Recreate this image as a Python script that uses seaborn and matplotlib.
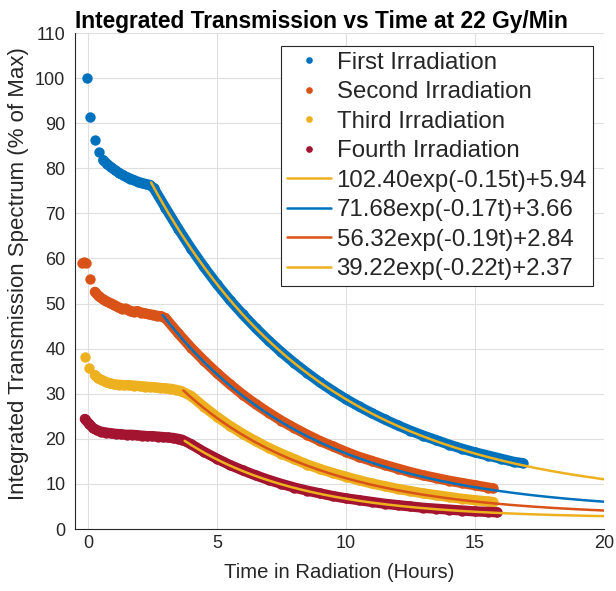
import matplotlib
matplotlib.use("Agg")
import matplotlib.pyplot as plt
from matplotlib.lines import Line2D
import seaborn as sns
import numpy as np

t_first = [-0.05, 0.1, 0.27, 0.43, 0.6, 0.75, 0.9, 1.05, 1.2, 1.35, 1.5, 1.65, 1.8, 1.95, 2.1, 2.25, 2.4,
           2.55, 3.0, 3.5, 4.0, 4.5, 5.0, 5.5, 6.0, 6.5, 7.0, 7.5, 8.0, 8.5, 9.0, 9.5, 10.0, 10.5,
           11.0, 11.5, 12.0, 12.5, 13.0, 13.5, 14.0, 14.5, 15.0, 15.5, 16.0, 16.5, 16.85]
v_first = [100.0, 91.3, 86.3, 83.5, 81.8, 80.9, 80.2, 79.6, 79.0, 78.5, 78.0, 77.7, 77.3, 77.0, 76.7, 76.5, 76.3,
           75.6, 71.3, 66.6, 62.2, 58.1, 54.3, 50.8, 47.6, 44.6, 41.8, 39.2, 36.8, 34.6, 32.5, 30.6, 28.8, 27.2,
           25.7, 24.3, 23.0, 21.8, 20.7, 19.7, 18.7, 17.8, 17.0, 16.3, 15.6, 14.9, 14.6]

t_second = [-0.22, -0.15, -0.08, 0.08, 0.27, 0.42, 0.57, 0.72, 0.87, 1.02, 1.17, 1.32, 1.47, 1.62, 1.77, 1.92,
            2.07, 2.22, 2.37, 2.52, 2.67, 2.82, 3.0, 3.5, 4.0, 4.5, 5.0, 5.5, 6.0, 6.5, 7.0, 7.5, 8.0, 8.5,
            9.0, 9.5, 10.0, 10.5, 11.0, 11.5, 12.0, 12.5, 13.0, 13.5, 14.0, 14.5, 15.0, 15.5, 15.7]
v_second = [59.1, 59.2, 59.1, 55.4, 52.6, 51.6, 51.0, 50.5, 50.1, 49.7, 49.2, 48.8, 48.9, 48.4, 48.2, 48.3,
            48.0, 47.8, 47.6, 47.5, 47.3, 47.2, 46.8, 43.4, 40.2, 37.3, 34.6, 32.1, 29.8, 27.7, 25.8, 24.0, 22.4, 20.9,
            19.5, 18.3, 17.1, 16.0, 15.1, 14.2, 13.4, 12.6, 11.9, 11.3, 10.7, 10.2, 9.7, 9.2, 9.0]

t_third = [-0.12, 0.05, 0.27, 0.4, 0.55, 0.7, 0.85, 1.0, 1.2, 1.4, 1.6, 1.8, 2.0, 2.2, 2.4, 2.6, 2.8, 3.0,
           3.2, 3.4, 3.6, 4.0, 4.5, 5.0, 5.5, 6.0, 6.5, 7.0, 7.5, 8.0, 8.5, 9.0, 9.5, 10.0, 10.5, 11.0,
           11.5, 12.0, 12.5, 13.0, 13.5, 14.0, 14.5, 15.0, 15.5, 15.7]
v_third = [38.2, 35.8, 34.1, 33.4, 33.0, 32.6, 32.3, 32.1, 32.0, 31.9, 31.9, 31.8, 31.7, 31.6, 31.5, 31.4, 31.3, 31.2,
           31.1, 30.9, 30.6, 29.5, 27.1, 24.9, 22.9, 21.1, 19.5, 18.0, 16.7, 15.5, 14.3, 13.3, 12.4, 11.6, 10.8, 10.1,
           9.5, 8.9, 8.4, 7.9, 7.5, 7.1, 6.7, 6.4, 6.1, 6.0]

t_fourth = [-0.12, 0.05, 0.2, 0.35, 0.5, 0.7, 0.9, 1.1, 1.3, 1.5, 1.7, 1.9, 2.1, 2.3, 2.5, 2.7, 2.9, 3.1,
            3.3, 3.5, 3.65, 4.0, 4.5, 5.0, 5.5, 6.0, 6.5, 7.0, 7.5, 8.0, 8.5, 9.0, 9.5, 10.0, 10.5, 11.0,
            11.5, 12.0, 12.5, 13.0, 13.5, 14.0, 14.5, 15.0, 15.5, 15.85]
v_fourth = [24.4, 23.3, 22.4, 21.9, 21.6, 21.4, 21.2, 21.1, 21.0, 20.9, 20.9, 20.8, 20.7, 20.6, 20.6, 20.5, 20.4, 20.3,
            20.2, 20.0, 19.8, 18.8, 17.1, 15.6, 14.2, 13.0, 11.9, 10.9, 10.0, 9.2, 8.5, 7.9, 7.3, 6.8, 6.4, 6.0,
            5.6, 5.3, 5.0, 4.7, 4.5, 4.3, 4.1, 3.9, 3.8, 3.7]

series_labels = ["First Irradiation", "Second Irradiation", "Third Irradiation", "Fourth Irradiation"]

# exponential fits: amp * exp(-rate * t) + offset
fit_amp = [102.40, 71.68, 56.32, 39.22]
fit_rate = [0.15, 0.17, 0.19, 0.22]
fit_offset = [5.94, 3.66, 2.84, 2.37]
fit_start = [2.45, 2.9, 3.7, 3.75]
fit_end = 20

# matlab default colours
blue = "#0072BD"
orange = "#D95319"
yellow = "#EDB120"
wine = "#A2142F"
data_colors = [blue, orange, yellow, wine]
fit_colors = [yellow, blue, orange, yellow]
band_from = [4, 4, 2, 0]  # where the dots get dense enough to merge into a band

sns.set_style("white")
plt.rcParams["font.family"] = ["Liberation Sans", "DejaVu Sans"]
ink = "#262626"

fig = plt.figure(figsize=(6.16, 5.91), dpi=100)
ax = fig.add_axes([75 / 616, 62 / 591, 529 / 616, 496 / 591])

series = [(t_first, v_first), (t_second, v_second), (t_third, v_third), (t_fourth, v_fourth)]
handles = []
for (tt, vv), col, b, lab in zip(series, data_colors, band_from, series_labels):
    sns.lineplot(x=tt[b:], y=vv[b:], ax=ax, color=col, lw=7.4, sort=False,
                 solid_capstyle="round", solid_joinstyle="round", zorder=2)
    sns.scatterplot(x=tt, y=vv, ax=ax, color=col, s=56, linewidth=0, zorder=2)
    handles.append(Line2D([], [], ls="none", marker="o", markersize=4.8,
                          markerfacecolor=col, markeredgewidth=0))

for a, k, c, s, col in zip(fit_amp, fit_rate, fit_offset, fit_start, fit_colors):
    tf = np.linspace(s, fit_end, 300)
    sns.lineplot(x=tf, y=a * np.exp(-k * tf) + c, ax=ax, color=col, lw=1.8, zorder=3)
    handles.append(Line2D([], [], color=col, lw=1.8))

fit_labels = [f"{a:.2f}exp(-{k:.2f}t)+{c:.2f}" for a, k, c in zip(fit_amp, fit_rate, fit_offset)]

ax.set_xlim(-0.5, 20)
ax.set_ylim(0, 110)
ax.set_xticks([0, 5, 10, 15, 20])
ax.set_yticks(np.arange(0, 111, 10))
ax.grid(True, color="#dfdfdf", lw=0.8)
ax.set_axisbelow(True)
for side in ["top", "right"]:
    ax.spines[side].set_visible(False)
for side in ["left", "bottom"]:
    ax.spines[side].set_color(ink)
    ax.spines[side].set_linewidth(0.8)
ax.tick_params(direction="in", length=3, width=0.8, colors=ink, labelsize=13, labelcolor=ink)
ax.tick_params(axis="y", pad=7)
ax.tick_params(axis="x", pad=4)

ax.set_xlabel("Time in Radiation (Hours)", fontsize=14.6, color=ink)
ax.set_ylabel("Integrated Transmission Spectrum (% of Max)", fontsize=16, color=ink)
ax.xaxis.set_label_coords(0.5, -0.068)
ax.yaxis.set_label_coords(-0.087, 0.515)

fig.text(321 / 616, 1 - 28 / 591, "Integrated Transmission vs Time at 22 Gy/Min",
         ha="center", va="baseline", fontsize=16.4, fontweight="bold", color="black")

leg = ax.legend(handles, series_labels + fit_labels, loc="upper right",
                bbox_to_anchor=(0.979, 0.974), borderaxespad=0, fontsize=17.3,
                frameon=True, fancybox=False, framealpha=1, edgecolor=ink,
                handlelength=1.83, handletextpad=0.25, labelspacing=0.31, borderpad=0.25)
leg.get_frame().set_linewidth(0.8)

fig.savefig("out.png", dpi=100, facecolor="white")
